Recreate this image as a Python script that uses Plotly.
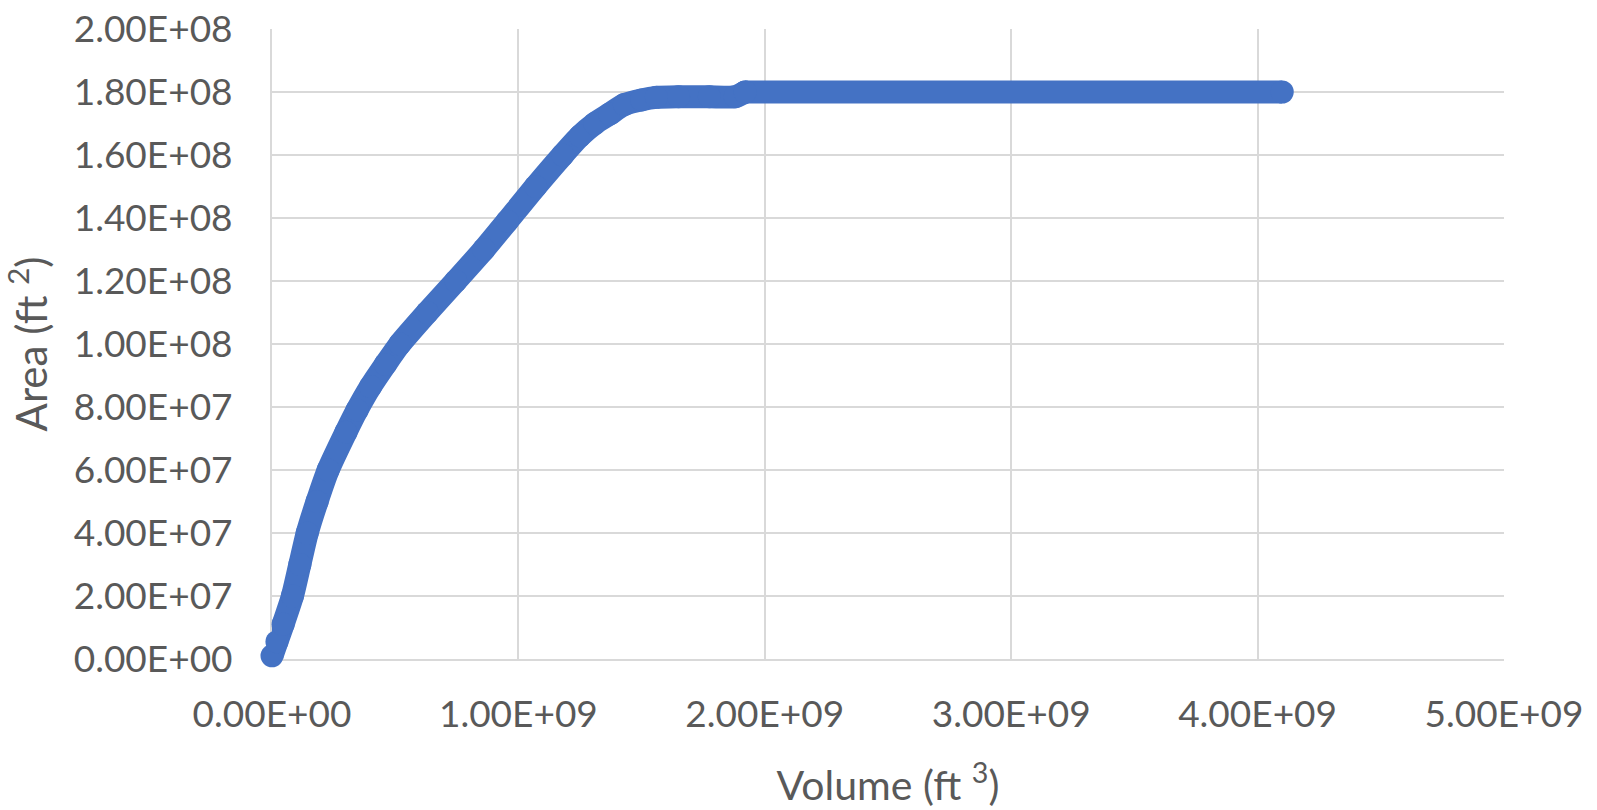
import plotly.graph_objects as go

# Volume (ft^3) and Area (ft^2)
volume = [0.0, 0.02e9, 0.045e9, 0.083e9, 0.113e9, 0.143e9, 0.183e9, 0.228e9, 0.30e9, 0.345e9,
          0.40e9, 0.46e9, 0.519e9, 0.63e9, 0.746e9, 0.86e9, 0.955e9, 1.07e9, 1.18e9, 1.25e9,
          1.31e9, 1.37e9, 1.43e9, 1.50e9, 1.56e9, 1.65e9, 1.775e9, 1.88e9, 1.92e9, 4.10e9]
area = [1.0e6, 5.5e6, 11e6, 20e6, 30e6, 40e6, 50e6, 60e6, 72e6, 79e6,
        86.5e6, 93.5e6, 100e6, 110e6, 120e6, 130e6, 139e6, 150e6, 160e6, 166e6,
        170e6, 173e6, 176e6, 177.5e6, 178.3e6, 178.5e6, 178.5e6, 178.5e6, 180e6, 180e6]

x_tickvals = [0, 1e9, 2e9, 3e9, 4e9, 5e9]
x_ticktext = ["0.00E+00", "1.00E+09", "2.00E+09", "3.00E+09", "4.00E+09", "5.00E+09"]
y_tickvals = [i * 2e7 for i in range(11)]
y_ticktext = ["0.00E+00", "2.00E+07", "4.00E+07", "6.00E+07", "8.00E+07", "1.00E+08",
              "1.20E+08", "1.40E+08", "1.60E+08", "1.80E+08", "2.00E+08"]

BLUE = "#4472C4"
GRID = "#D9D9D9"
TXT = "#595959"
FONT = "Lato"

fig = go.Figure()
# curved rising part (smoothed)
fig.add_trace(go.Scatter(
    x=volume[:-1], y=area[:-1], mode="lines+markers",
    line=dict(color=BLUE, width=23, shape="spline", smoothing=0.6),
    marker=dict(color=BLUE, size=23, line=dict(width=0)),
    cliponaxis=False, showlegend=False,
))
# flat plateau segment (straight)
fig.add_trace(go.Scatter(
    x=volume[-2:], y=area[-2:], mode="lines+markers",
    line=dict(color=BLUE, width=23),
    marker=dict(color=BLUE, size=23, line=dict(width=0)),
    cliponaxis=False, showlegend=False,
))

fig.update_layout(
    width=1597, height=810,
    margin=dict(l=272, r=93, t=29, b=151),
    paper_bgcolor="white", plot_bgcolor="white",
    font=dict(family=FONT, color=TXT, size=37),
    xaxis=dict(
        range=[0, 5e9], tickvals=x_tickvals, ticktext=x_ticktext,
        showgrid=True, gridcolor=GRID, gridwidth=2, automargin=False,
        zeroline=False, showline=True, linecolor=GRID, linewidth=2,
        ticks="", ticklabelstandoff=22, ticklabeloverflow="allow", layer="below traces",
        tickfont=dict(family=FONT, size=37, color=TXT),
        title=dict(text="Volume (ft <sup>3</sup>)", font=dict(family=FONT, size=41, color=TXT), standoff=37),
    ),
    yaxis=dict(
        range=[0, 2e8], tickvals=y_tickvals, ticktext=y_ticktext,
        showgrid=True, gridcolor=GRID, gridwidth=2, automargin=False,
        zeroline=False, showline=True, linecolor=GRID, linewidth=2,
        ticks="", ticklabelstandoff=30, ticklabeloverflow="allow", layer="below traces",
        tickfont=dict(family=FONT, size=37, color=TXT),
        title=dict(text="Area (ft <sup>2</sup>)", font=dict(family=FONT, size=42, color=TXT), standoff=15),
    ),
)

fig.write_html("out.html", config={"displayModeBar": False},
               post_script="document.body.style.margin='0';")
